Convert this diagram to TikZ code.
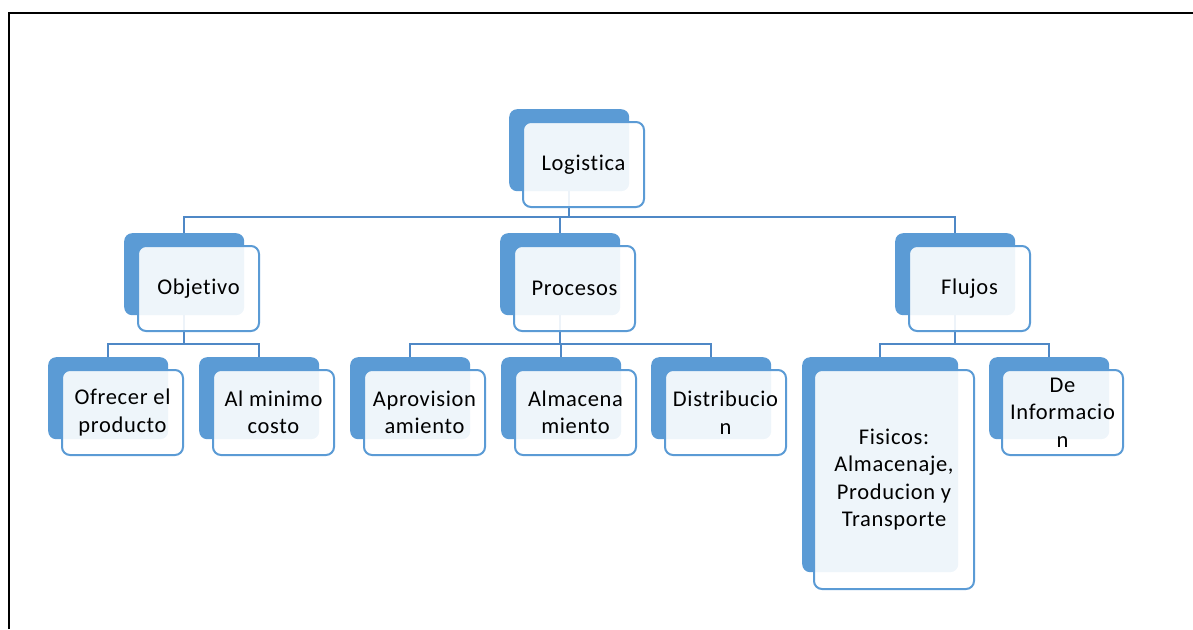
\documentclass[tikz,border=0pt]{standalone}
\usepackage{fontspec}
\setmainfont{Carlito}[LetterSpace = 3, Ligatures = {NoCommon}]

\begin{document}
\begin{tikzpicture}[x = 1pt, y = -1pt,
	back/.style = {rectangle, rounded corners = 8pt, fill = boxblue, anchor = north west,
		minimum width = 120pt, minimum height = 82pt, inner sep = 0pt},
	front/.style = {rectangle, rounded corners = 8pt, draw = boxblue, line width = 2pt,
		fill = white, fill opacity = 0.9, text opacity = 1, anchor = north west,
		minimum width = 121pt, minimum height = 85pt, inner sep = 2pt, align = center,
		font = \fontsize{22.5}{27.5}\selectfont},
	link/.style = {draw = lineblue, line width = 2pt}]

	\definecolor{boxblue}{HTML}{5B9BD5}
	\definecolor{lineblue}{HTML}{4F88C6}

	\useasboundingbox (0, 0) rectangle (1193, 629);

	% Page frame
	\draw[line width = 2pt] (8.5, 629) -- (8.5, 12.5) -- (1193, 12.5);

	% Back shapes
	\node[back] (log) at (509, 109) {};

	\node[back] (obj) at (124, 233) {};
	\node[back] (proc) at (500, 233) {};
	\node[back] (flu) at (895, 233) {};

	\node[back] (ofr) at (48, 357) {};
	\node[back] (mini) at (199, 357) {};
	\node[back] (apr) at (350, 357) {};
	\node[back] (alm) at (501, 357) {};
	\node[back] (dis) at (651, 357) {};
	\node[back, minimum width = 156pt, minimum height = 215pt] (fis) at (802, 357) {};
	\node[back] (inf) at (989, 357) {};

	% Connectors, first level
	\draw[link] (log.south) -- ++(0, 26) -| (obj.north);
	\draw[link] (log.south) -- ++(0, 26) -| (proc.north);
	\draw[link] (log.south) -- ++(0, 26) -| (flu.north);

	% Connectors, second level
	\draw[link] (obj.south) -- ++(0, 29) -| (ofr.north);
	\draw[link] (obj.south) -- ++(0, 29) -| (mini.north);

	\draw[link] (proc.south) -- ++(0, 29) -| (apr.north);
	\draw[link] (proc.south) -- ++(0, 29) -| (alm.north);
	\draw[link] (proc.south) -- ++(0, 29) -| (dis.north);

	\draw[link] (flu.south) -- ++(0, 29) -| (fis.north);
	\draw[link] (flu.south) -- ++(0, 29) -| (inf.north);

	% Front shapes with the texts
	\node[front] (log-f) at (522, 121) {Logistica};

	\node[front] (obj-f) at (137, 245) {Objetivo};
	\node[front] (proc-f) at (513, 245) {Procesos};
	\node[front] (flu-f) at (908, 245) {Flujos};

	\node[front] (ofr-f) at (61, 369) {Ofrecer el\\producto};
	\node[front] (mini-f) at (212, 369) {Al minimo\\costo};
	\node[front] (apr-f) at (363, 369) {Aprovision\\amiento};
	\node[front] (alm-f) at (514, 369) {Almacena\\miento};
	\node[front] (dis-f) at (664, 369) {Distribucio\\n};
	\node[front, minimum width = 160pt, minimum height = 219pt] (fis-f) at (813, 369)
		{Fisicos:\\Almacenaje,\\Producion y\\Transporte};
	\node[front] (inf-f) at (1001, 369) {De\\Informacio\\n};

\end{tikzpicture}
\end{document}
